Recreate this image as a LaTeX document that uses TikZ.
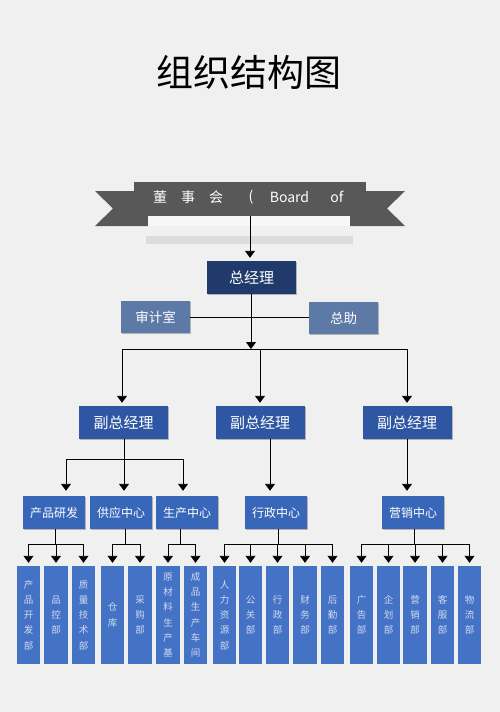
\documentclass[tikz,border=0pt]{standalone}
\usepackage{fontspec}
\setmainfont{Noto Sans CJK SC}
\usetikzlibrary{arrows.meta,shadows}
\definecolor{bgc}{HTML}{F0F0F0}
\definecolor{bandc}{HTML}{585858}
\definecolor{foldc}{HTML}{F7F7F7}
\definecolor{barc}{HTML}{DCDCDC}
\definecolor{gmc}{HTML}{213A6C}
\definecolor{sidec}{HTML}{5D79A5}
\definecolor{vpc}{HTML}{2F56A3}
\definecolor{cenc}{HTML}{3866B9}
\definecolor{depc}{HTML}{4472C4}
\definecolor{deptext}{HTML}{D0DCF3}
\begin{document}
\begin{tikzpicture}[x=1pt,y=-1pt,
  arr/.style={-{Triangle[width=10pt,length=7pt]}, line width=0.9pt, shorten >=3pt},
  ln/.style={line width=0.9pt},
  boxbase/.style={inner sep=0pt, text=white, drop shadow={shadow xshift=1.2pt, shadow yshift=-1.2pt, fill=black, opacity=0.25}},
  gmbox/.style={boxbase, fill=gmc, minimum width=89pt, minimum height=33pt, font=\fontsize{15}{18}\selectfont},
  sidebox/.style={boxbase, fill=sidec, minimum width=69pt, minimum height=32pt, font=\fontsize{13.5}{16}\selectfont},
  vpbox/.style={boxbase, fill=vpc, minimum width=89pt, minimum height=33pt, font=\fontsize{15}{18}\selectfont},
  cenbox/.style={boxbase, fill=cenc, minimum width=62pt, minimum height=33pt, font=\fontsize{12}{14}\selectfont},
  depbox/.style={inner sep=0pt, fill=depc, text=deptext, minimum width=23.5pt, minimum height=98pt, align=center, font=\fontsize{9.5}{15.3}\selectfont},
  bantext/.style={text=white, font=\fontsize{14}{16}\selectfont, inner sep=0pt}
]
\fill[bgc] (0,0) rectangle (500,712);
\useasboundingbox (0,0) rectangle (500,712);

% title
\node[font=\fontsize{37}{40}\selectfont] (title) at (249,72) {组织结构图};

% banner ribbon
\fill[bandc] (95,191) -- (148,191) -- (148,226) -- (95,226) -- (113,208.5) -- cycle;
\fill[bandc] (405,191) -- (350,191) -- (350,226) -- (405,226) -- (387,208.5) -- cycle;
\fill[foldc] (148,216) rectangle (350,226);
\fill[barc] (146,236) rectangle (353,244);
\node[fill=bandc, minimum width=232pt, minimum height=34pt, inner sep=0pt] (board) at (249.5,199) {};
\node[bantext] (b1) at (160,197) {董};
\node[bantext] (b2) at (188,197) {事};
\node[bantext] (b3) at (216,197) {会};
\node[bantext] (b4) at (251,197) {(};
\node[bantext] (b5) at (289.5,197) {Board};
\node[bantext] (b6) at (337,197) {of};

% top level
\node[gmbox] (gm) at (251.5,277.5) {总经理};
\node[sidebox] (aud) at (155.5,317) {审计室};
\node[sidebox] (asst) at (343.5,318) {总助};

\draw[arr] (board.south -| 250,0) -- (gm.north -| 250,0);
\draw[ln] (aud.east) -- (aud.east -| asst.west);

% vice managers
\node[vpbox] (vp1) at (123.5,422.5) {副总经理};
\node[vpbox] (vp2) at (260,422.5) {副总经理};
\node[vpbox] (vp3) at (407,422.5) {副总经理};

\coordinate (jl) at (122,349);
\coordinate (jr) at (407,349);
\draw[arr, shorten >=0pt] (gm.south -| 251,0) -- (251,349);
\draw[ln] (jl) -- (jr);
\draw[arr] (jl) -- (jl |- vp1.north);
\draw[arr] (vp2.north |- jl) -- (vp2.north);
\draw[arr] (jr) -- (jr |- vp3.north);

% centres
\node[cenbox] (c1) at (54,512.5) {产品研发};
\node[cenbox] (c2) at (121,512.5) {供应中心};
\node[cenbox] (c3) at (187,512.5) {生产中心};
\node[cenbox] (c4) at (276,512.5) {行政中心};
\node[cenbox] (c5) at (413,512.5) {营销中心};

\coordinate (h1a) at (66,459);
\coordinate (h1m) at (124,459);
\coordinate (h1b) at (183,459);
\draw[ln] (vp1.south -| h1m) -- (h1m);
\draw[ln] (h1a) -- (h1b);
\draw[arr, shorten >=5pt] (h1a) -- (h1a |- c1.north);
\draw[arr, shorten >=5pt] (h1m) -- (h1m |- c2.north);
\draw[arr, shorten >=5pt] (h1b) -- (h1b |- c3.north);
\coordinate (k4) at (270,0);
\draw[arr, shorten >=5pt] (vp2.south -| k4) -- (c4.north -| k4);
\draw[arr, shorten >=5pt] (vp3.south) -- (vp3.south |- c5.north);

% departments
\node[depbox] (d1) at (28.5,615) {产\\品\\开\\发\\部};
\node[depbox] (d2) at (56,615) {品\\控\\部};
\node[depbox] (d3) at (83.5,615) {质\\量\\技\\术\\部};
\node[depbox] (d4) at (112.5,615) {仓\\库};
\node[depbox] (d5) at (140,615) {采\\购\\部};
\node[depbox] (d6) at (168,615) {原\\材\\料\\生\\产\\基};
\node[depbox] (d7) at (195.5,615) {成\\品\\生\\产\\车\\间};
\node[depbox] (d8) at (224.5,615) {人\\力\\资\\源\\部};
\node[depbox] (d9) at (250.5,615) {公\\关\\部};
\node[depbox] (d10) at (277.5,615) {行\\政\\部};
\node[depbox] (d11) at (305,615) {财\\务\\部};
\node[depbox] (d12) at (332.5,615) {后\\勤\\部};
\node[depbox] (d13) at (361.5,615) {广\\告\\部};
\node[depbox] (d14) at (388.5,615) {企\\划\\部};
\node[depbox] (d15) at (415,615) {营\\销\\部};
\node[depbox] (d16) at (442.5,615) {客\\服\\部};
\node[depbox] (d17) at (469.5,615) {物\\流\\部};

\coordinate (r) at (0,544);
% group 1
\draw[ln] (c1.south -| 55,0) -- (55,544);
\draw[ln] (d1.north |- r) -- (d3.north |- r);
\foreach \d in {d1,d2,d3} \draw[arr] (\d.north |- r) -- (\d.north);
% group 2
\draw[ln] (c2.south -| 125,0) -- (125,544);
\draw[ln] (d4.north |- r) -- (d5.north |- r);
\foreach \d in {d4,d5} \draw[arr] (\d.north |- r) -- (\d.north);
% group 3
\draw[ln] (c3.south -| 180,0) -- (180,544);
\draw[ln] (d6.north |- r) -- (d7.north |- r);
\foreach \d in {d6,d7} \draw[arr] (\d.north |- r) -- (\d.north);
% group 4
\draw[ln] (c4.south -| 278,0) -- (278,544);
\draw[ln] (d8.north |- r) -- (d12.north |- r);
\foreach \d in {d8,d9,d10,d11,d12} \draw[arr] (\d.north |- r) -- (\d.north);
% group 5
\draw[ln] (c5.south -| 414,0) -- (414,544);
\draw[ln] (d13.north |- r) -- (d17.north |- r);
\foreach \d in {d13,d14,d15,d16,d17} \draw[arr] (\d.north |- r) -- (\d.north);
\end{tikzpicture}
\end{document}
